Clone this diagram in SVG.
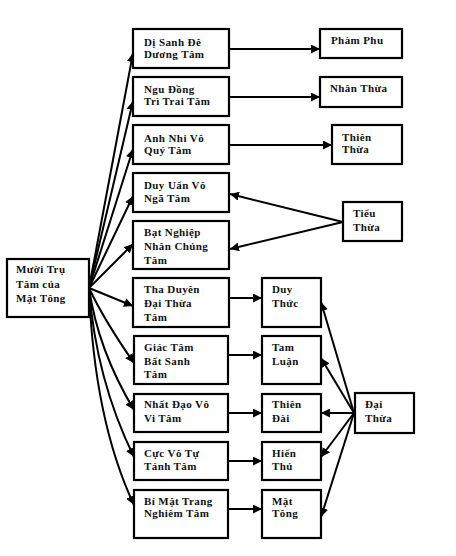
<svg xmlns="http://www.w3.org/2000/svg" width="456" height="556" viewBox="0 0 456 556">
<defs>
<marker id="ah" viewBox="0 0 10 10" refX="10" refY="5" markerWidth="9" markerHeight="9" markerUnits="userSpaceOnUse" orient="auto">
<path d="M0,0 L10,5 L0,10 z" fill="#000"/>
</marker>
</defs>
<style>
rect{fill:#fff;stroke:#000;stroke-width:2.2}
text{font-family:"Liberation Serif","DejaVu Serif",serif;font-size:11px;font-weight:bold;fill:#111;letter-spacing:0.4px}
.c line,.c path{stroke:#000;stroke-width:2;fill:none;marker-end:url(#ah)}
</style>
<rect x="0" y="0" width="456" height="556" style="fill:#fff;stroke:none"/>
<g class="c" id="connectors">
<line x1="89" y1="288" x2="133" y2="53"/>
<line x1="89" y1="288" x2="133" y2="101"/>
<line x1="89" y1="288" x2="133" y2="149"/>
<line x1="89" y1="288" x2="133" y2="196"/>
<line x1="89" y1="288" x2="133" y2="244"/>
<line x1="89" y1="288" x2="133" y2="306"/>
<path d="M89,288 Q104,320 134,363"/>
<path d="M89,288 Q98,350 134,410"/>
<path d="M89,288 Q96,380 134,457"/>
<path d="M89,288 Q94,420 134,505"/>
<line x1="229" y1="49" x2="320" y2="49"/>
<line x1="229" y1="97" x2="320" y2="97"/>
<line x1="229" y1="145" x2="332" y2="145"/>
<line x1="343" y1="222" x2="230" y2="194"/>
<line x1="343" y1="222" x2="230" y2="249"/>
<line x1="229" y1="298" x2="262" y2="298"/>
<line x1="228" y1="355" x2="262" y2="355"/>
<line x1="228" y1="413" x2="262" y2="413"/>
<line x1="228" y1="461" x2="262" y2="461"/>
<line x1="228" y1="509" x2="262" y2="509"/>
<line x1="354" y1="413" x2="321" y2="302"/>
<line x1="354" y1="413" x2="321" y2="358"/>
<line x1="354" y1="413" x2="321" y2="413"/>
<line x1="354" y1="413" x2="321" y2="457"/>
<line x1="354" y1="413" x2="321" y2="517"/>
</g>
<g id="n-main"><rect x="7" y="259" width="82" height="58"/><text x="16" y="273">Mười Trụ</text><text x="16" y="288">Tâm của</text><text x="16" y="302">Mật Tông</text></g>
<g id="n1"><rect x="133" y="29" width="96" height="39"/><text x="144" y="46">Dị Sanh Đê</text><text x="144" y="58">Dương Tâm</text></g>
<g id="n2"><rect x="133" y="77" width="96" height="39"/><text x="144" y="93">Ngu Đồng</text><text x="144" y="105">Trì Trai Tâm</text></g>
<g id="n3"><rect x="133" y="125" width="96" height="39"/><text x="144" y="142">Anh Nhi Vô</text><text x="144" y="154">Quý Tâm</text></g>
<g id="n4"><rect x="133" y="173" width="96" height="39"/><text x="144" y="189">Duy Uẩn Vô</text><text x="144" y="202">Ngã Tâm</text></g>
<g id="n5"><rect x="133" y="221" width="96" height="48"/><text x="144" y="236">Bạt Nghiệp</text><text x="144" y="250">Nhân Chủng</text><text x="144" y="264">Tâm</text></g>
<g id="n6"><rect x="133" y="278" width="96" height="49"/><text x="144" y="293">Tha Duyên</text><text x="144" y="307">Đại Thừa</text><text x="144" y="321">Tâm</text></g>
<g id="n7"><rect x="134" y="336" width="94" height="48"/><text x="144" y="351">Giác Tâm</text><text x="144" y="365">Bất Sanh</text><text x="144" y="378">Tâm</text></g>
<g id="n8"><rect x="134" y="394" width="94" height="38"/><text x="144" y="408">Nhất Đạo Vô</text><text x="144" y="422">Vi Tâm</text></g>
<g id="n9"><rect x="134" y="442" width="94" height="38"/><text x="144" y="457">Cực Vô Tự</text><text x="144" y="470">Tánh Tâm</text></g>
<g id="n10"><rect x="134" y="490" width="94" height="48"/><text x="144" y="505">Bí Mật Trang</text><text x="144" y="517">Nghiêm Tâm</text></g>
<g id="r-phamphu"><rect x="320" y="29" width="82" height="29"/><text x="331" y="44">Phàm Phu</text></g>
<g id="r-nhanthua"><rect x="320" y="77" width="82" height="30"/><text x="330" y="92">Nhân Thừa</text></g>
<g id="r-thienthua"><rect x="332" y="125" width="70" height="39"/><text x="342" y="141">Thiên</text><text x="342" y="153">Thừa</text></g>
<g id="r-tieuthua"><rect x="343" y="202" width="59" height="39"/><text x="353" y="217">Tiểu</text><text x="353" y="231">Thừa</text></g>
<g id="r-duythuc"><rect x="262" y="278" width="59" height="49"/><text x="272" y="293">Duy</text><text x="272" y="307">Thức</text></g>
<g id="r-tamluan"><rect x="262" y="336" width="59" height="48"/><text x="272" y="351">Tam</text><text x="272" y="365">Luận</text></g>
<g id="r-thiendai"><rect x="262" y="394" width="59" height="38"/><text x="272" y="408">Thiên</text><text x="272" y="422">Đài</text></g>
<g id="r-hienthu"><rect x="262" y="442" width="59" height="38"/><text x="272" y="457">Hiển</text><text x="272" y="470">Thủ</text></g>
<g id="r-mattong"><rect x="262" y="490" width="59" height="48"/><text x="272" y="505">Mật</text><text x="272" y="517">Tông</text></g>
<g id="r-daithua"><rect x="355" y="393" width="59" height="40"/><text x="365" y="408">Đại</text><text x="365" y="422">Thừa</text></g>
</svg>
